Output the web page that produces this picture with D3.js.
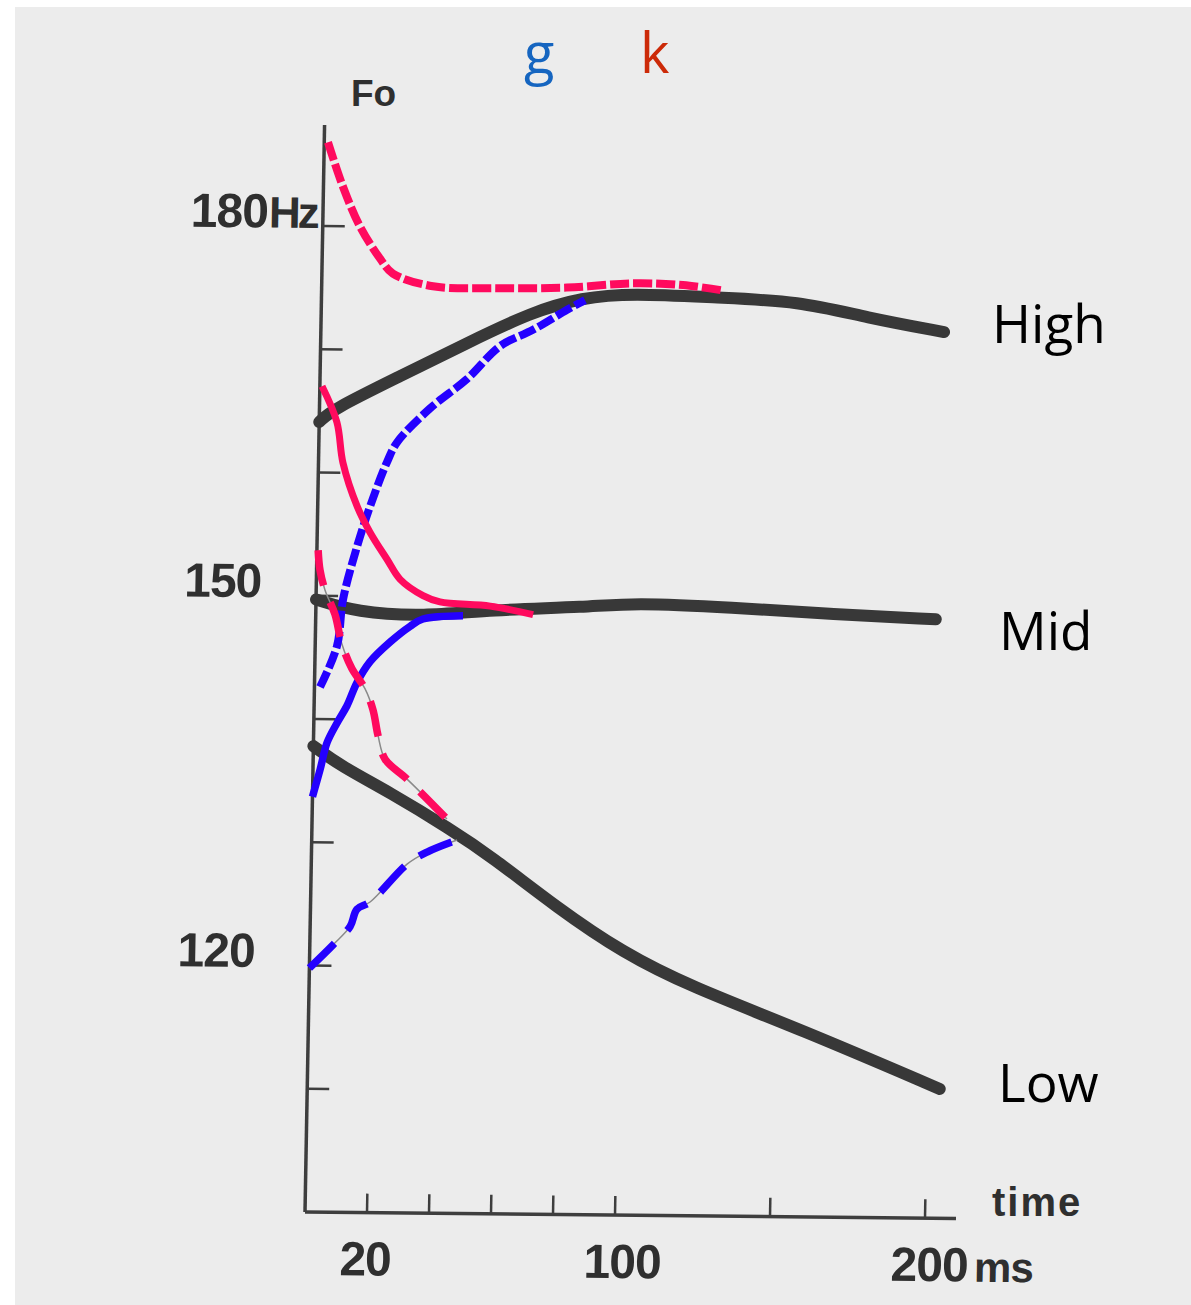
<!DOCTYPE html>
<html>
<head>
<meta charset="utf-8">
<script src="https://cdn.jsdelivr.net/npm/d3@7"></script>
<style>
    body { margin: 0; background: #fff; }
    svg { display: block; }
</style>
</head>
<body>
<div id="chart"></div>
<script>
(function () {
    'use strict';

    // black F0 contours (time in ms, F0 in Hz)
    var tHigh = [0, 4, 26, 47, 68, 84, 100, 128, 154, 176, 201];
    var fHigh = [164.1, 165.1, 167.9, 170.6, 173.2, 174.4, 174.8, 174.5, 174.3, 173.0, 171.9];

    var tMid = [0, 13, 35, 56, 88, 102, 134, 167, 200];
    var fMid = [149.7, 148.7, 148.4, 149.0, 149.3, 149.7, 149.4, 148.9, 148.6];

    var tLow = [0, 9, 25, 44.5, 58, 79.5, 101, 123, 159, 204];
    var fLow = [137.8, 136.2, 134.1, 131.2, 129.0, 124.9, 121.3, 118.6, 115.2, 110.5];

    // k (red) and g (blue) traces
    var tKHigh = [1.2, 6.3, 12, 18.7, 22.9, 35.9, 57.5, 79.1, 100.4, 116.5, 129.2];
    var fKHigh = [186.8, 183.2, 180.0, 177.4, 176.2, 175.2, 175.1, 175.2, 175.6, 175.5, 175.1];

    var tGHigh = [1.8, 7, 8.7, 12.9, 16.9, 22.1, 25.2, 35.7, 47.4, 57.9, 68.4, 79.3, 85];
    var fGHigh = [142.6, 145.9, 149.7, 154.0, 157.3, 160.9, 162.5, 165.3, 167.7, 170.4, 171.75, 173.4, 174.2];

    var tKMid = [0.7, 5.7, 7.9, 12.7, 17, 22.7, 27, 34.5, 40, 56.2, 70.1];
    var fKMid = [167.0, 164.1, 160.8, 157.3, 155.2, 153.0, 151.4, 150.1, 149.6, 149.3, 148.65];

    var tGMid = [0, 2.3, 4.4, 7.5, 10.6, 13.7, 17.8, 24.1, 30.5, 34.6, 47.5];
    var fGMid = [133.7, 135.9, 138.1, 139.7, 141.1, 143.0, 144.7, 146.3, 147.6, 148.2, 148.5];

    var tKLow = [0.4, 1.1, 2.8, 6.2, 8.6, 12, 16.3, 19, 20.8, 23.2, 30.4, 43.5];
    var fKLow = [153.7, 152.1, 150.5, 148.5, 146.1, 144.1, 142.5, 140.8, 138.7, 136.8, 135.2, 132.0];

    var tGLow = [0, 7.5, 12.9, 15, 19.2, 30.9, 37.3, 46.9];
    var fGLow = [119.8, 121.7, 123.2, 124.6, 125.2, 128.3, 129.3, 130.3];

    // axis ticks and labels
    var xTicks = [20, 40, 60, 80, 100, 150, 200];
    var xLabels = [20, 100, 200];
    var yTicks = [110, 120, 130, 140, 150, 160, 170, 180];
    var yLabels = [180, 150, 120];

    var width = 1191, height = 1305;
    var x0 = 305, y0 = 1212;

    var svg = d3.select("#chart")
        .append("svg")
        .attr("width", width)
        .attr("height", height);

    // scanned page background
    svg.append("rect")
        .attr("x", 15)
        .attr("y", 7)
        .attr("width", width - 15)
        .attr("height", height - 7)
        .attr("fill", "#ececec");

    var x = d3.scaleLinear().domain([0, 200]).range([x0, 925]);
    var y = d3.scaleLinear().domain([100, 180]).range([y0, 226]);

    // the scan is slightly skewed: shear the plot about the origin
    var a = 1, b = 0.010, c = -0.018, d = 1;
    var e = x0 - (a * x0 + c * y0), f = y0 - (b * x0 + d * y0);
    var plot = svg.append("g")
        .attr("transform", "matrix(" + [a, b, c, d, e, f].join(",") + ")");

    var axisColor = "#3e3e3e";
    var textColor = "#2f2f2f";

    // axes
    plot.append("line")
        .attr("x1", x(0)).attr("y1", y(100))
        .attr("x2", x(0)).attr("y2", y(188.2))
        .attr("stroke", axisColor)
        .attr("stroke-width", 3.5);

    plot.append("line")
        .attr("x1", x(0)).attr("y1", y(100))
        .attr("x2", x(210)).attr("y2", y(100))
        .attr("stroke", axisColor)
        .attr("stroke-width", 3.5);

    plot.selectAll("line.ytick")
        .data(yTicks)
        .enter()
        .append("line")
        .attr("class", "ytick")
        .attr("x1", x(0)).attr("x2", x(0) + 22)
        .attr("y1", function (v) { return y(v); })
        .attr("y2", function (v) { return y(v); })
        .attr("stroke", axisColor)
        .attr("stroke-width", 2.5);

    plot.selectAll("line.xtick")
        .data(xTicks)
        .enter()
        .append("line")
        .attr("class", "xtick")
        .attr("x1", function (v) { return x(v); })
        .attr("x2", function (v) { return x(v); })
        .attr("y1", y(100)).attr("y2", y(100) - 19)
        .attr("stroke", axisColor)
        .attr("stroke-width", 2.5);

    // y labels, numbers end well left of the axis
    plot.selectAll("text.ylab")
        .data(yLabels)
        .enter()
        .append("text")
        .attr("class", "ylab")
        .attr("x", x(0) - 55)
        .attr("y", function (v) { return y(v) + 2; })
        .attr("text-anchor", "end")
        .attr("font-family", "Liberation Sans, Arial, sans-serif")
        .attr("font-weight", "bold")
        .attr("font-size", "48px")
        .attr("letter-spacing", "-1px")
        .attr("fill", textColor)
        .text(function (v) { return v; });

    plot.append("text")
        .attr("x", x(0) - 54)
        .attr("y", y(180) + 2)
        .attr("font-family", "Liberation Sans, Arial, sans-serif")
        .attr("font-weight", "bold")
        .attr("font-size", "44px")
        .attr("letter-spacing", "-3px")
        .attr("fill", textColor)
        .text("Hz");

    plot.selectAll("text.xlab")
        .data(xLabels)
        .enter()
        .append("text")
        .attr("class", "xlab")
        .attr("x", function (v) { return x(v) + (v === 200 ? 5 : (v === 100 ? 8 : -1)); })
        .attr("y", y(100) + 63)
        .attr("text-anchor", "middle")
        .attr("font-family", "Liberation Sans, Arial, sans-serif")
        .attr("font-weight", "bold")
        .attr("font-size", "48px")
        .attr("letter-spacing", "-1px")
        .attr("fill", textColor)
        .text(function (v) { return v; });

    plot.append("text")
        .attr("x", x(200) + 50)
        .attr("y", y(100) + 63)
        .attr("font-family", "Liberation Sans, Arial, sans-serif")
        .attr("font-weight", "bold")
        .attr("font-size", "42px")
        .attr("letter-spacing", "-1px")
        .attr("fill", textColor)
        .text("ms");

    // line generators: smooth the hand drawn contours, follow the traces closely
    function makeLine(curve) {
        return d3.line()
            .x(function (p) { return x(p[0]); })
            .y(function (p) { return y(p[1]); })
            .curve(curve);
    }
    var smooth = makeLine(d3.curveBasis);
    var line = makeLine(d3.curveCatmullRom.alpha(0.5));

    function pts(ts, fs) {
        return ts.map(function (t, i) { return [t, fs[i]]; });
    }

    // black contours
    [[tHigh, fHigh], [tMid, fMid], [tLow, fLow]].forEach(function (s) {
        plot.append("path")
            .attr("d", smooth(pts(s[0], s[1])))
            .attr("fill", "none")
            .attr("stroke", "#383838")
            .attr("stroke-width", 12)
            .attr("stroke-linecap", "round")
            .attr("stroke-linejoin", "round");
    });

    var red = "#ff0a5e", blue = "#2400ff";

    // thin pencil lines showing through the long dashes
    [[tKLow, fKLow], [tGLow, fGLow]].forEach(function (s) {
        plot.append("path")
            .attr("d", line(pts(s[0], s[1])))
            .attr("fill", "none")
            .attr("stroke", "#8a8a8a")
            .attr("stroke-width", 1.5);
    });

    var traces = [
        { t: tKHigh, f: fKHigh, color: red, dash: "19,4", w: 8 },
        { t: tGHigh, f: fGHigh, color: blue, dash: "17,4", w: 8 },
        { t: tKMid, f: fKMid, color: red, dash: null, w: 7 },
        { t: tGMid, f: fGMid, color: blue, dash: null, w: 7.5 },
        { t: tKLow, f: fKLow, color: red, dash: "36,18", w: 7.5 },
        { t: tGLow, f: fGLow, color: blue, dash: "35,18", w: 7.5 }
    ];

    traces.forEach(function (s) {
        plot.append("path")
            .attr("d", line(pts(s.t, s.f)))
            .attr("fill", "none")
            .attr("stroke", s.color)
            .attr("stroke-width", s.w)
            .attr("stroke-dasharray", s.dash)
            .attr("stroke-linejoin", "round");
    });

    // axis names
    svg.append("text")
        .attr("x", 351)
        .attr("y", 106)
        .attr("font-family", "Liberation Sans, Arial, sans-serif")
        .attr("font-weight", "bold")
        .attr("font-size", "37px")
        .attr("fill", textColor)
        .text("Fo");

    svg.append("text")
        .attr("x", 992)
        .attr("y", 1216)
        .attr("font-family", "Liberation Sans, Arial, sans-serif")
        .attr("font-weight", "bold")
        .attr("font-size", "40px")
        .attr("letter-spacing", "2px")
        .attr("fill", textColor)
        .text("time");

    // legend letters
    svg.append("text")
        .attr("x", 524)
        .attr("y", 73)
        .attr("font-family", "Open Sans, sans-serif")
        .attr("font-size", "56px")
        .attr("fill", "#1565c0")
        .text("g");

    svg.append("text")
        .attr("x", 640)
        .attr("y", 73)
        .attr("font-family", "Open Sans, sans-serif")
        .attr("font-size", "56px")
        .attr("fill", "#cc2a08")
        .text("k");

    // contour names
    var names = [
        { label: "High", x: 992, y: 343 },
        { label: "Mid", x: 999, y: 650 },
        { label: "Low", x: 998, y: 1102 }
    ];

    svg.selectAll("text.name")
        .data(names)
        .enter()
        .append("text")
        .attr("class", "name")
        .attr("x", function (n) { return n.x; })
        .attr("y", function (n) { return n.y; })
        .attr("font-family", "Open Sans, sans-serif")
        .attr("font-size", "53px")
        .attr("fill", "#000")
        .text(function (n) { return n.label; });
}());
</script>
</body>
</html>
